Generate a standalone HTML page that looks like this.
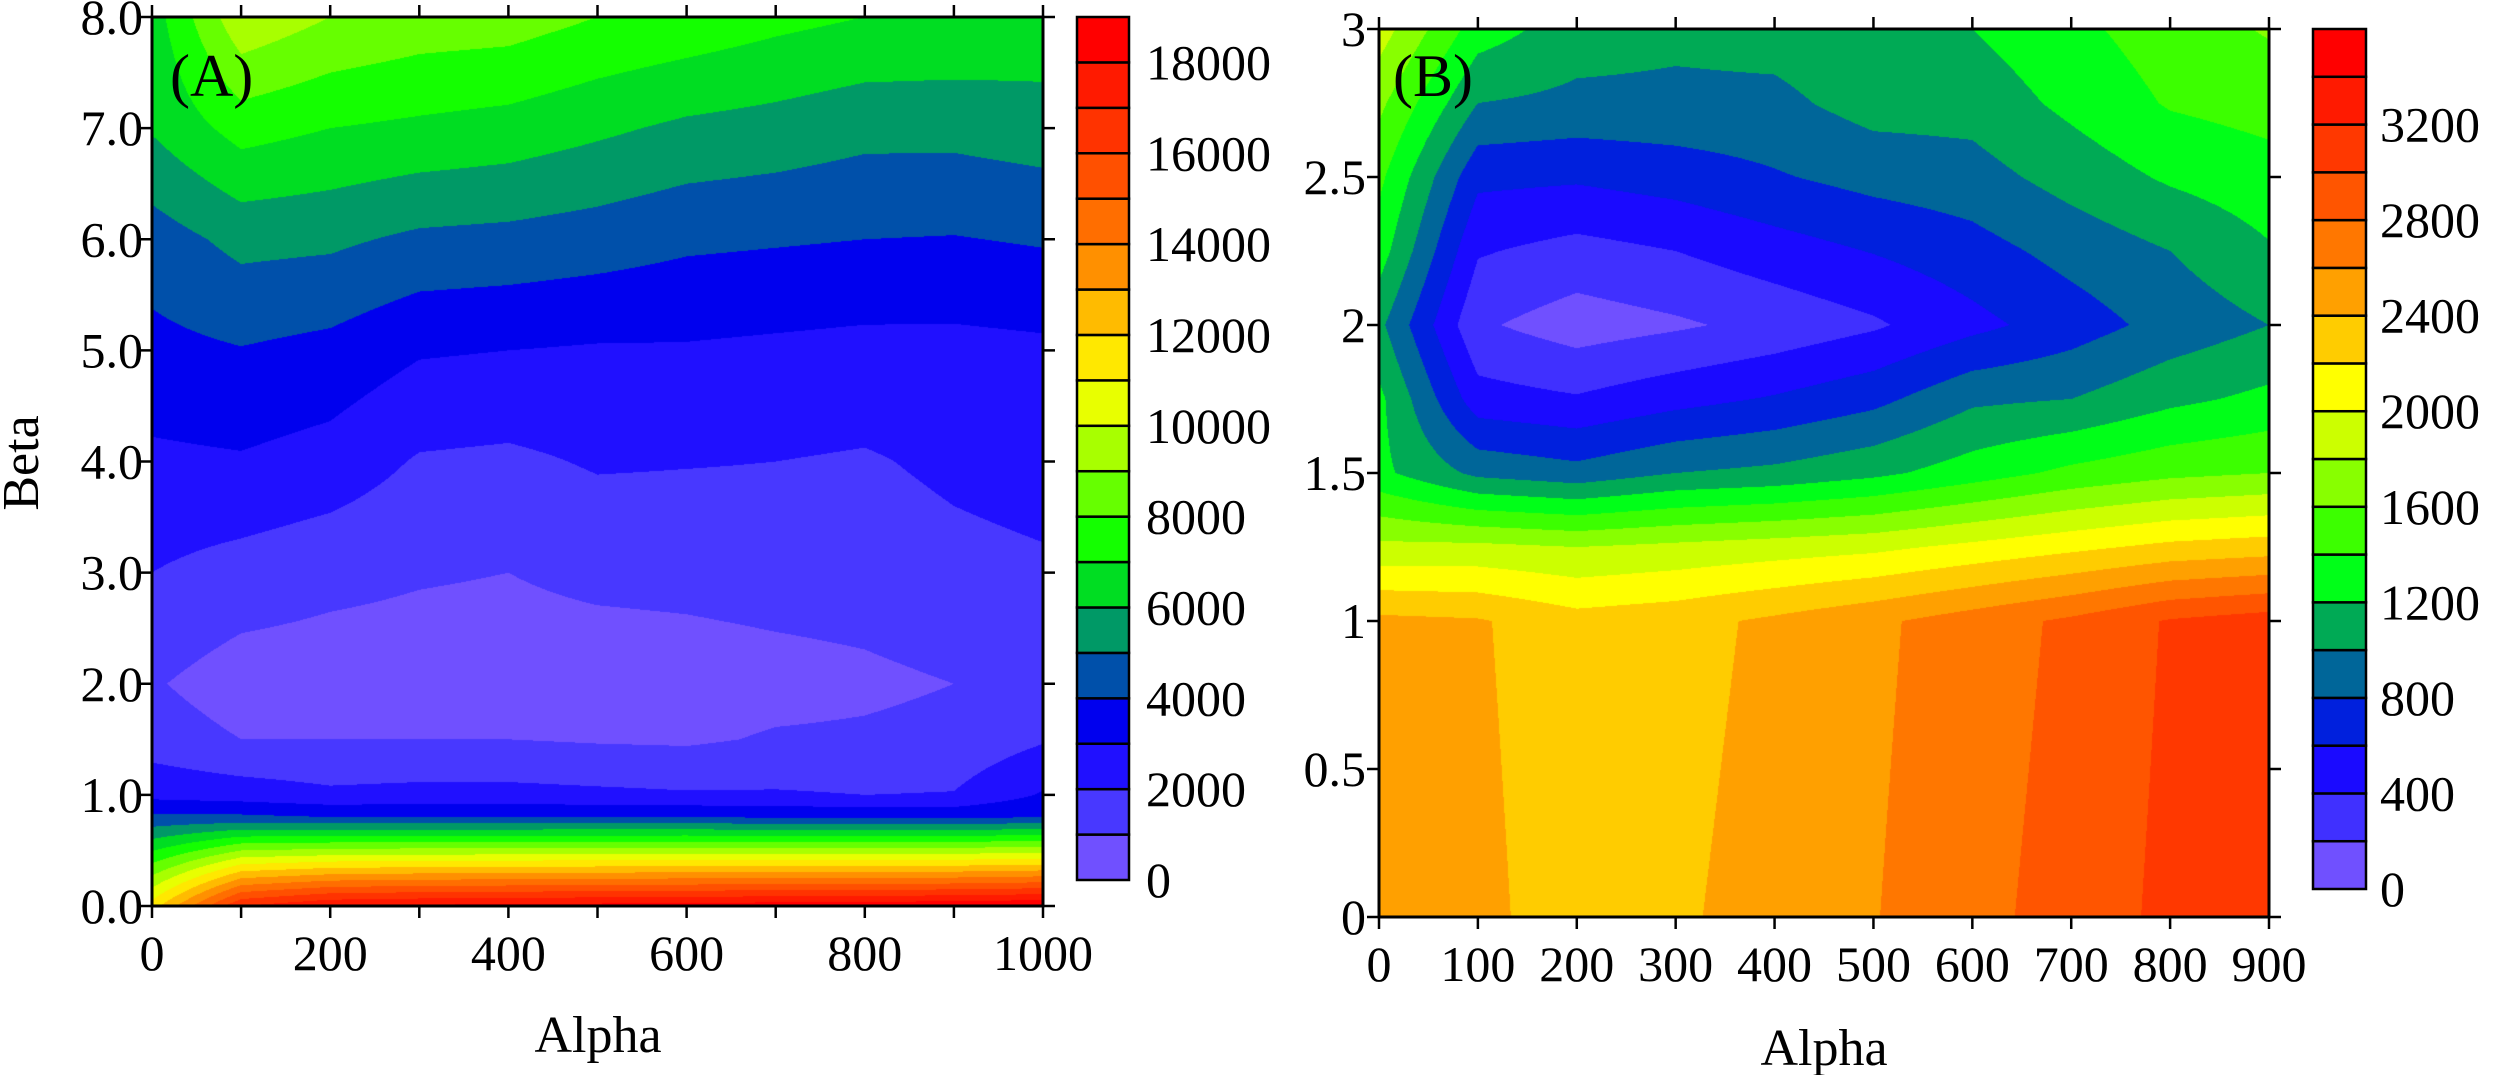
<!DOCTYPE html>
<html><head><meta charset="utf-8"><style>
html,body{margin:0;padding:0;background:#fff;}
#root{position:relative;width:2500px;height:1075px;overflow:hidden;font-family:"Liberation Serif",serif;}
canvas{position:absolute;}
svg{position:absolute;left:0;top:0;}
svg text{font-family:"Liberation Serif","DejaVu Serif",serif;}
</style></head><body>
<div id="root">
<canvas id="cA"></canvas>
<canvas id="cB"></canvas>
<svg id="ov" width="2500" height="1075"></svg>
</div>
<script>
// ---------- Chart A data ----------
const alphaA=[0,100,200,300,400,500,600,700,800,900,1000];
const betaA=[0,0.8,1,1.5,2,3,4,5,6,7,8];
const zA=[
[11500,4200,2700,1500,1100,2000,2800,3700,4500,6100,6500],
[17000,4200,2500,1000,500,1600,2900,3950,5300,7400,9800],
[18000,4000,2200,1000,450,1300,2600,3700,5200,7000,9000],
[18200,4000,2300,1000,450,1100,1900,3100,4800,6800,8600],
[18300,4000,2300,1000,450,1000,1800,3000,4700,6600,8500],
[18400,4000,2200,900,400,1250,2100,2900,4500,6200,8000],
[18500,4000,2100,850,500,1300,2050,2900,4200,5800,7700],
[18600,3900,2100,1100,650,1400,2000,2800,4100,5600,7300],
[18700,3800,2000,1150,800,1450,1900,2700,4000,5300,7000],
[18800,3800,2050,1300,1000,1700,2200,2700,3950,5300,6900],
[19000,4000,3100,1900,1300,1850,2400,2800,4100,5500,6700]];
const colorsA=['#7050ff','#4838ff','#2010ff','#0000ee','#0050aa','#009966','#00dd22','#14ff00','#66ff00','#a8ff00','#e8ff00','#ffe800','#ffbb00','#ff9000','#ff6e00','#ff5000','#ff3300','#ff1a00','#ff0000'];
const xTicksA=[0,200,400,600,800,1000];
const yTicksA=['0.0','1.0','2.0','3.0','4.0','5.0','6.0','7.0','8.0'];
const cbLabelsA=[0,2000,4000,6000,8000,10000,12000,14000,16000,18000];
// ---------- Chart B data ----------
const alphaB=[0,100,200,300,400,500,600,700,800,900];
const betaB=[0,1,1.25,1.5,1.75,2,2.25,2.5,2.75,3];
const zB=[
[2500,2450,1850,1250,1250,1050,1300,1450,1650,1900],
[2450,2420,1850,950,480,230,420,650,1000,1300],
[2300,2280,1800,870,420,100,330,630,950,1100],
[2370,2330,1850,1000,530,170,400,690,950,1050],
[2480,2440,1900,1050,620,260,510,780,950,1080],
[2590,2560,1950,1150,740,370,610,870,1080,1150],
[2740,2700,2050,1300,960,540,720,920,1080,1200],
[2880,2840,2150,1450,1000,700,870,1080,1250,1350],
[3050,3020,2250,1550,1150,870,1000,1230,1420,1500],
[3150,3100,2300,1600,1250,1000,1180,1320,1480,1620]];
const colorsB=['#7050ff','#4030ff','#1a0aff','#0020dd','#006699','#00aa55','#00ff18','#3cff00','#88ff00','#ccff00','#ffff00','#ffcc00','#ffa000','#ff7700','#ff5500','#ff3800','#ff1a00','#ff0000'];
const xTicksB=[0,100,200,300,400,500,600,700,800,900];
const yTicksB=['0','0.5','1','1.5','2','2.5','3'];
const cbLabelsB=[0,400,800,1200,1600,2000,2400,2800,3200];

const NS='http://www.w3.org/2000/svg';
const ov=document.getElementById('ov');
function seg(arr,v){let i=0;while(i<arr.length-2&&v>arr[i+1])i++;return i;}
function hex(c){return [parseInt(c.substr(1,2),16),parseInt(c.substr(3,2),16),parseInt(c.substr(5,2),16)];}
function render(id,P,alphas,betas,z,colors,step){
  const cv=document.getElementById(id);
  const W=P.x1-P.x0,H=P.y1-P.y0;
  cv.width=W;cv.height=H;cv.style.left=P.x0+'px';cv.style.top=P.y0+'px';
  const ctx=cv.getContext('2d');const img=ctx.createImageData(W,H);
  const rgb=colors.map(hex);
  const amin=alphas[0],amax=alphas[alphas.length-1],bmin=betas[0],bmax=betas[betas.length-1];
  for(let py=0;py<H;py++){
    const b=bmax-(py+0.5)/H*(bmax-bmin);const j=seg(betas,b);
    const tb=Math.min(1,Math.max(0,(b-betas[j])/(betas[j+1]-betas[j])));
    for(let px=0;px<W;px++){
      const a=amin+(px+0.5)/W*(amax-amin);const i=seg(alphas,a);
      const ta=Math.min(1,Math.max(0,(a-alphas[i])/(alphas[i+1]-alphas[i])));
      const v=(1-ta)*((1-tb)*z[i][j]+tb*z[i][j+1])+ta*((1-tb)*z[i+1][j]+tb*z[i+1][j+1]);
      let k=Math.floor(v/step);k=Math.max(0,Math.min(colors.length-1,k));
      const o=(py*W+px)*4;const c=rgb[k];
      img.data[o]=c[0];img.data[o+1]=c[1];img.data[o+2]=c[2];img.data[o+3]=255;
    }
  }
  ctx.putImageData(img,0,0);
}
function el(tag,attrs,parent){const e=document.createElementNS(NS,tag);for(const k in attrs)e.setAttribute(k,attrs[k]);(parent||ov).appendChild(e);return e;}
function txt(x,y,s,size,anchor,name){const t=el('text',{x:x,y:y,'font-size':size,'text-anchor':anchor,fill:'#000'});
  t.style.fontFamily='"Liberation Serif", serif';
  t.textContent=s;
  
  
  return t;}
function axes(P,xt,amax,yt,bmax,minorStep,xName){
  const g=el('g',{});
  
  
  const W=P.x1-P.x0,H=P.y1-P.y0,L=12;
  el('rect',{x:P.x0,y:P.y0,width:W,height:H,fill:'none',stroke:'#000','stroke-width':3},g);
  for(let a=0;a<=amax+1e-9;a+=minorStep){
    const x=P.x0+a/amax*W;
    el('line',{x1:x,y1:P.y0,x2:x,y2:P.y0-L,stroke:'#000','stroke-width':2.5},g);
    el('line',{x1:x,y1:P.y1,x2:x,y2:P.y1+L,stroke:'#000','stroke-width':2.5},g);
  }
  xt.forEach(v=>{const x=P.x0+v/amax*W;txt(x,P.xly,String(v),50,'middle','x-tick-label');});
  yt.forEach(s=>{const v=parseFloat(s);const y=P.y1-v/bmax*H;
    el('line',{x1:P.x0,y1:y,x2:P.x0-L,y2:y,stroke:'#000','stroke-width':2.5},g);
    el('line',{x1:P.x1,y1:y,x2:P.x1+L,y2:y,stroke:'#000','stroke-width':2.5},g);
    txt(P.ylx,y+17,s,50,'end','y-tick-label');});
}
function colorbar(C,colors,labels,step,name){
  const g=el('g',{});
  
  
  const n=colors.length,h=(C.y1-C.y0)/n;
  colors.forEach((c,k)=>{el('rect',{x:C.x0,y:C.y1-(k+1)*h,width:C.x1-C.x0,height:h,fill:c,stroke:'#000','stroke-width':2.5},g);});
  labels.forEach(v=>{const y=C.y1-v/step*h;txt(C.lx,y+17,String(v),50,'start','colorbar-label');});
}
const PA={x0:152,x1:1043,y0:17,y1:906,xly:970,ylx:143};
const PB={x0:1379,x1:2269,y0:29,y1:917,xly:981,ylx:1366};
render('cA',PA,alphaA,betaA,zA,colorsA,1000);
render('cB',PB,alphaB,betaB,zB,colorsB,200);
axes(PA,xTicksA,1000,yTicksA,8,100,'chart-a');
axes(PB,xTicksB,900,yTicksB,3,100,'chart-b');
colorbar({x0:1077,x1:1129,y0:17,y1:880,lx:1146},colorsA,cbLabelsA,1000,'colorbar-a');
colorbar({x0:2313,x1:2366,y0:29,y1:889,lx:2380},colorsB,cbLabelsB,200,'colorbar-b');
txt(598,1052,'Alpha',52,'middle','x-axis-title-a');
txt(1824,1065,'Alpha',52,'middle','x-axis-title-b');
const bt=txt(0,0,'Beta',52,'middle','y-axis-title-a');
bt.setAttribute('transform','translate(38,463) rotate(-90)');
txt(170,96,'(A)',60,'start','panel-label-a');
txt(1393,96,'(B)',60,'start','panel-label-b');
</script>
</body></html>
